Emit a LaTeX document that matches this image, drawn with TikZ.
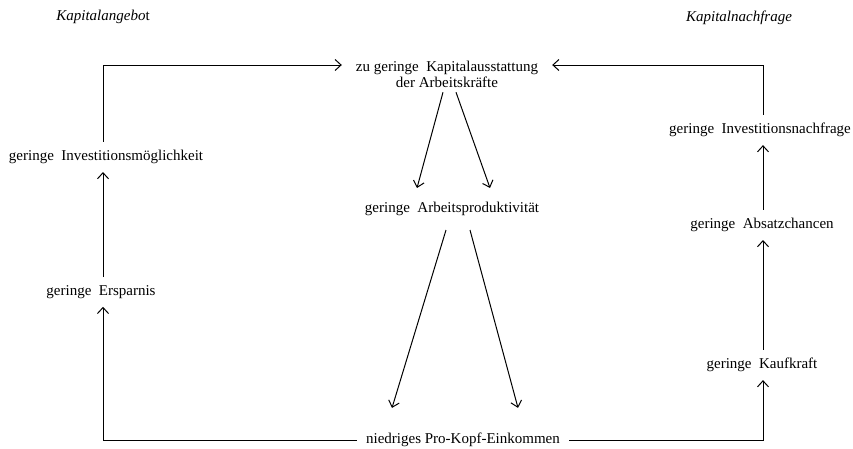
\documentclass[tikz,border=0pt]{standalone}
\usepackage{fontspec}
\setmainfont{Liberation Serif}
\usetikzlibrary{arrows.meta,calc}
\begin{document}
\begin{tikzpicture}[x=1pt,y=-1pt,
  every node/.style={font=\fontsize{15}{16.5}\selectfont, text=black},
  lbl/.style={inner xsep=8pt, inner ysep=8pt},
  hdr/.style={font=\fontsize{15}{15}\selectfont\itshape},
  ln/.style={line width=1pt, draw=black},
  arr/.style={ln, -{Straight Barb[length=6pt,width=11pt]}}]
\useasboundingbox (0,0) rectangle (853,448);

\node[hdr] (hl) at (103,17) {Kapitalangebo\upshape t};
\node[hdr] (hr) at (739,18) {Kapitalnachfrage};

\node[align=center, minimum width=210pt, inner xsep=0pt, inner ysep=4pt] (top) at (447,74.5)
  {zu geringe~ Kapitalausstattung\\der Arbeitskräfte};
\node[inner ysep=14pt] (prod) at (452,209) {geringe~ Arbeitsproduktivität};
\node[inner xsep=9pt, inner ysep=25pt] (eink) at (463,440) {niedriges Pro-Kopf-Einkommen};

\node[lbl] (moeg) at (106,157) {geringe~ Investitionsmöglichkeit};
\node[lbl] (spar) at (101,292) {geringe~ Ersparnis};

\node[lbl] (nach) at (760,130) {geringe~ Investitionsnachfrage};
\node[lbl] (absatz) at (762,225) {geringe~ Absatzchancen};
\node[lbl] (kauf) at (762,365) {geringe~ Kaufkraft};

\coordinate (lx) at (103,0);
\coordinate (rx) at (763,0);

% left loop
\draw[arr] (eink.west) -| (spar.south -| lx);
\draw[arr] (spar.north -| lx) -- (moeg.south -| lx);
\draw[arr] (moeg.north -| lx) |- ([yshift=9.5pt]top.west);

% right loop
\draw[arr] (eink.east) -| (kauf.south -| rx);
\draw[arr] (kauf.north -| rx) -- (absatz.south -| rx);
\draw[arr] (absatz.north -| rx) -- (nach.south -| rx);
\draw[arr] (nach.north -| rx) |- ([yshift=9.5pt]top.east);

% centre
\draw[arr] ($(top.south)+(-4,0)$) -- ($(prod.north)+(-35,0)$);
\draw[arr] ($(top.south)+(9,0)$) -- ($(prod.north)+(38,0)$);
\draw[arr] ($(prod.south)+(-6,0)$) -- ($(eink.north)+(-71,0)$);
\draw[arr] ($(prod.south)+(18,0)$) -- ($(eink.north)+(55,0)$);
\end{tikzpicture}
\end{document}
